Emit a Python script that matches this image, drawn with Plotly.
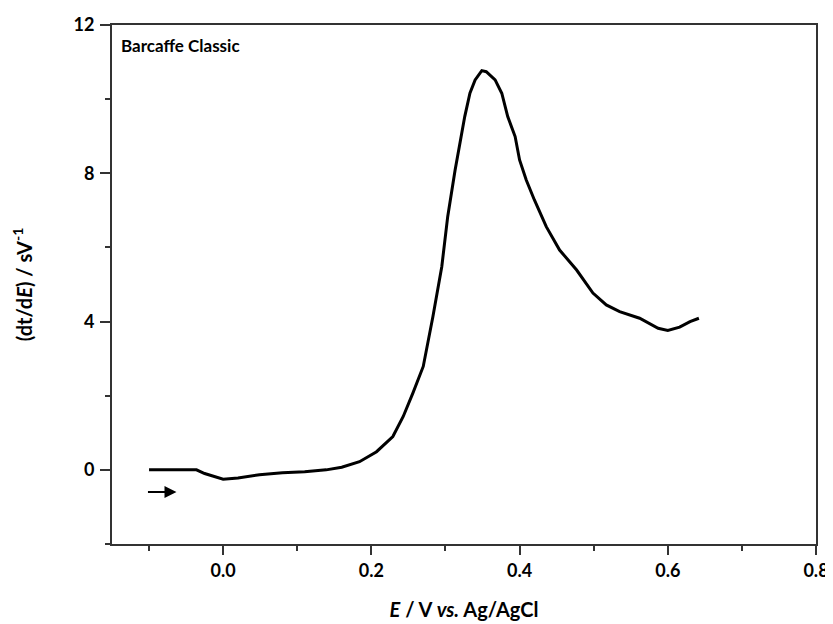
import plotly.graph_objects as go

# Potential E / V vs Ag/AgCl
potential = [-0.1, -0.036, -0.025, -0.01, 0.0, 0.02, 0.049, 0.08, 0.11, 0.139, 0.16,
             0.184, 0.207, 0.229, 0.243, 0.256, 0.27, 0.283, 0.295, 0.303, 0.313,
             0.326, 0.333, 0.34, 0.349, 0.355, 0.367, 0.376, 0.384, 0.394, 0.40,
             0.409, 0.42, 0.436, 0.454, 0.477, 0.499, 0.517, 0.535, 0.562, 0.587,
             0.60, 0.616, 0.63, 0.642]
# (dt/dE) / s V^-1
dtdE = [0.0, 0.0, -0.1, -0.2, -0.25, -0.22, -0.13, -0.08, -0.05, 0.0, 0.07,
        0.22, 0.49, 0.9, 1.44, 2.07, 2.79, 4.13, 5.48, 6.83, 8.09,
        9.53, 10.16, 10.52, 10.77, 10.74, 10.52, 10.16, 9.53, 8.99, 8.36,
        7.82, 7.28, 6.56, 5.93, 5.39, 4.77, 4.45, 4.27, 4.09, 3.82,
        3.76, 3.85, 4.0, 4.09]

x_ticks = [0.0, 0.2, 0.4, 0.6, 0.8]
x_tick_labels = ["0.0", "0.2", "0.4", "0.6", "0.8"]
y_ticks = [0, 4, 8, 12]
y_tick_labels = ["0", "4", "8", "12"]

sample_label = "Barcaffe Classic"
arrow_start = (-0.1035, -0.6)
arrow_end = (-0.063, -0.6)

FONT = "Lato"
AXIS_COLOR = "#333333"

fig = go.Figure()
fig.add_trace(go.Scatter(
    x=potential, y=dtdE, mode="lines",
    line=dict(color="black", width=3, shape="linear"),
    showlegend=False, hoverinfo="skip"))

fig.add_annotation(
    x=arrow_end[0], y=arrow_end[1], ax=arrow_start[0], ay=arrow_start[1],
    xref="x", yref="y", axref="x", ayref="y",
    showarrow=True, arrowhead=2, arrowsize=1.2, arrowwidth=2, arrowcolor="black", text="")

fig.add_annotation(
    x=0.01, y=0.985, xref="paper", yref="paper", xanchor="left", yanchor="top",
    text=f"<b>{sample_label}</b>", showarrow=False,
    font=dict(family=FONT, size=17, color="black"))

axis_common = dict(
    showgrid=False, zeroline=False, showline=True, linecolor=AXIS_COLOR, linewidth=2,
    mirror=True, ticks="outside", tickcolor=AXIS_COLOR, tickwidth=2, automargin=False,
    tickfont=dict(family=FONT, size=18, color="black", weight="bold"),
    title_font=dict(family=FONT, size=20, color="black", weight="bold"),
)

fig.update_xaxes(
    range=[-0.15, 0.8], tickvals=x_ticks, ticktext=x_tick_labels, ticklen=9,
    minor=dict(dtick=0.1, tick0=0, ticks="outside", ticklen=5, tickwidth=2, tickcolor=AXIS_COLOR),
    title=dict(text="<i>E</i> / V <i>vs.</i> Ag/AgCl", standoff=23),
    **axis_common)
fig.update_yaxes(
    range=[-2, 12], tickvals=y_ticks, ticktext=y_tick_labels, ticklen=10,
    ticklabelstandoff=2,
    minor=dict(dtick=2, tick0=0, ticks="outside", ticklen=5, tickwidth=2, tickcolor=AXIS_COLOR),
    title=dict(text="(dt/d<i>E</i>) / sV<sup>-1</sup>", standoff=36),
    **axis_common)

fig.update_layout(
    width=833, height=624,
    margin=dict(l=104, r=25, t=17, b=88),
    plot_bgcolor="white", paper_bgcolor="white",
    font=dict(family=FONT, color="black"),
)

fig.write_html("out.html")
